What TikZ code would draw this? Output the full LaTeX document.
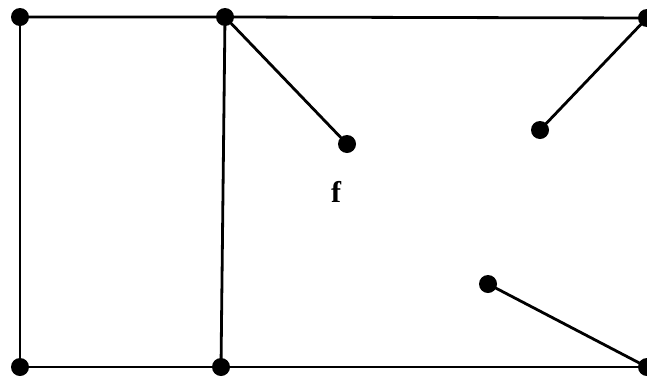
\documentclass[tikz,border=0pt]{standalone}
\usepackage{fontspec}
\setmainfont{Liberation Serif}
\begin{document}
\begin{tikzpicture}[x=1pt,y=-1pt,
  dot/.style={circle,fill=black,inner sep=0pt,minimum size=18pt},
  edge/.style={line width=2.8pt}]
\useasboundingbox (0,0) rectangle (647,378);
\clip (0,0) rectangle (647,378);
\node[dot] (tl) at (20,17) {};
\node[dot] (tm) at (225,17) {};
\node[dot] (tr) at (647,18) {};
\node[dot] (bl) at (20,367) {};
\node[dot] (bm) at (221,367) {};
\node[dot] (br) at (647,367) {};
\node[dot] (a) at (347,144) {};
\node[dot] (b) at (540,130) {};
\node[dot] (c) at (488,284) {};
\node[font=\bfseries\fontsize{30}{30}\selectfont] (f) at (336,192) {f};
\draw[edge] (tl.center) -- (tm.center) -- (tr.center);
\draw[edge] (bl.center) -- (bm.center) -- (br.center);
\draw[edge] (tl.center) -- (bl.center);
\draw[edge] (tm.center) -- (bm.center);
\draw[edge] (tm.center) -- (a.center);
\draw[edge] (tr.center) -- (b.center);
\draw[edge] (c.center) -- (br.center);
\end{tikzpicture}
\end{document}
